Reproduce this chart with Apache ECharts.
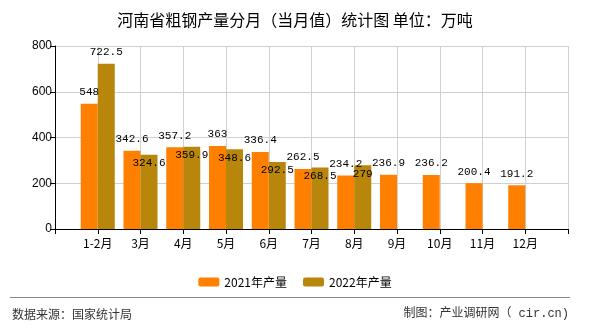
<!DOCTYPE html>
<html>
<head>
<meta charset="utf-8">
<script src="https://cdn.jsdelivr.net/npm/echarts@6/dist/echarts.min.js"></script>
<style>html,body{margin:0;padding:0;background:#fff}#c{width:590px;height:330px}</style>
</head>
<body>
<div id="c"></div>
<script>
var categories = ['1-2月','3月','4月','5月','6月','7月','8月','9月','10月','11月','12月'];
var values2021 = [548, 342.6, 357.2, 363, 336.4, 262.5, 234.2, 236.9, 236.2, 200.4, 191.2];
var values2022 = [722.5, 324.6, 359.9, 348.6, 292.5, 268.5, 279, null, null, null, null];
var yTicks = [0, 200, 400, 600, 800];

var axisData = [''].concat(categories).concat(['']);
function pad(arr){
  var out = ['-'];
  arr.forEach(function(v){ out.push(v == null ? '-' : v); });
  out.push('-');
  return out;
}
var d2022 = pad(values2022).map(function(v, i){
  if (v === '-') return v;
  if (i === 1) return {value: v, label: {position: 'top', distance: 6}};
  return {value: v};
});

var chart = echarts.init(document.getElementById('c'));
var labelFont = {fontFamily: 'Liberation Mono', fontSize: 11, color: '#000'};
chart.setOption({
  animation: false,
  backgroundColor: '#fff',
  title: {
    text: '河南省粗钢产量分月（当月值）统计图 单位：万吨',
    left: 'center', top: 7,
    textStyle: {fontFamily: 'Noto Sans CJK SC', fontSize: 16, fontWeight: 'normal', color: '#000'}
  },
  legend: {
    left: 'center', top: 271,
    itemWidth: 21, itemHeight: 9, itemGap: 16,
    textStyle: {fontFamily: 'Noto Sans CJK SC', fontSize: 12, color: '#000'},
    data: ['2021年产量', '2022年产量']
  },
  grid: {left: 55, right: 22, top: 46, bottom: 101},
  xAxis: {
    type: 'category',
    data: axisData,
    boundaryGap: false,
    axisLine: {lineStyle: {color: '#000'}},
    axisTick: {show: true, length: 5, lineStyle: {color: '#000'}},
    axisLabel: {interval: 0, margin: 8, fontFamily: 'Noto Sans CJK SC', fontSize: 12, color: '#000'},
    splitLine: {show: true, lineStyle: {color: '#d0d0d0'}}
  },
  yAxis: {
    type: 'value',
    min: yTicks[0], max: yTicks[yTicks.length - 1], interval: 200,
    axisLine: {show: true, lineStyle: {color: '#000'}},
    axisTick: {show: true, length: 5, lineStyle: {color: '#000'}},
    axisLabel: {margin: 3, fontFamily: 'Liberation Sans', fontSize: 12, color: '#000'},
    splitLine: {show: true, lineStyle: {color: '#d0d0d0'}}
  },
  series: [
    {
      name: '2021年产量', type: 'bar', data: pad(values2021),
      barWidth: 17, barGap: '0%',
      itemStyle: {color: '#FF8000'},
      label: Object.assign({show: true, position: 'top', distance: 6}, labelFont)
    },
    {
      name: '2022年产量', type: 'bar', data: d2022,
      barWidth: 17, barGap: '0%',
      itemStyle: {color: '#B8860B'},
      label: Object.assign({show: true, position: 'insideTop', distance: 3}, labelFont)
    }
  ],
  graphic: [
    {type: 'line', shape: {x1: 10, y1: 297.5, x2: 570, y2: 297.5}, style: {stroke: '#888', lineWidth: 1}},
    {type: 'text', left: 12, top: 308, style: {text: '数据来源：国家统计局', font: '12px "Noto Sans CJK SC"', fill: '#333'}},
    {type: 'text', right: 21, top: 308, style: {text: '制图：产业调研网（ cir.cn)', font: '12px "Liberation Mono", "Noto Sans CJK SC"', fill: '#333'}}
  ]
});
</script>
</body>
</html>
